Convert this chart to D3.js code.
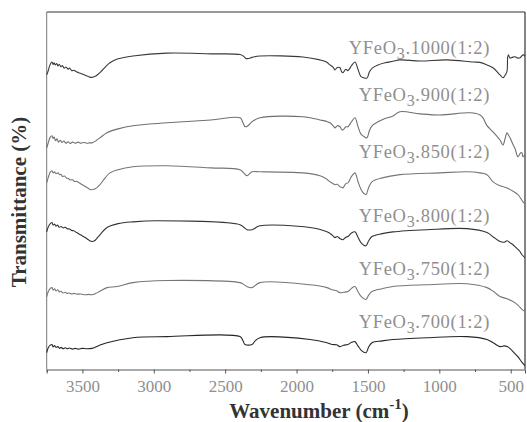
<!DOCTYPE html>
<html>
<head>
<meta charset="utf-8">
<script src="https://cdn.jsdelivr.net/npm/d3@7"></script>
<style>
  body { margin: 0; background: #fff; }
  text { font-family: "Liberation Serif", "DejaVu Serif", serif; }
</style>
</head>
<body>
<div class="ftir-plot"></div>
<script>
// spectra: [wavenumber, transmittance]
const s1000 = [[3750,82.4],[3740,83.5],[3725,85.4],[3713,86.0],[3705,85.3],[3698,85.8],[3690,85.2],[3680,85.6],[3671,84.9],[3662,85.4],[3650,84.7],[3640,85.0],[3628,84.3],[3615,84.6],[3600,84.0],[3590,84.3],[3575,83.6],[3560,83.7],[3538,83.2],[3510,82.8],[3480,82.3],[3455,81.9],[3433,81.7],[3410,82.0],[3390,82.6],[3370,83.3],[3340,84.6],[3307,85.8],[3250,86.9],[3146,87.7],[2907,88.5],[2600,88.3],[2396,88.1],[2370,87.6],[2355,87.0],[2335,87.0],[2312,87.3],[2256,87.7],[1955,87.4],[1836,86.6],[1790,86.0],[1766,85.2],[1745,84.6],[1731,83.8],[1715,84.5],[1696,84.4],[1685,83.3],[1675,83.0],[1655,84.0],[1640,83.6],[1615,85.0],[1591,86.0],[1570,84.0],[1550,82.0],[1530,81.6],[1507,81.5],[1490,83.2],[1470,84.3],[1430,85.2],[1380,85.8],[1325,86.2],[1276,86.6],[1135,86.3],[946,86.6],[764,86.0],[715,85.9],[666,85.2],[624,84.4],[575,82.4],[554,81.6],[535,82.6],[526,83.4],[521,87.4],[516,88.0],[505,87.1],[490,87.3],[470,87.5],[450,87.1],[435,87.2],[414,88.0],[400,87.7]];
const s900 = [[3750,62.0],[3740,63.3],[3725,65.0],[3713,65.4],[3705,64.6],[3698,65.0],[3688,64.0],[3678,64.5],[3668,63.6],[3655,64.1],[3642,63.5],[3630,63.9],[3615,63.3],[3600,63.7],[3585,63.2],[3570,63.6],[3550,63.3],[3530,63.6],[3510,63.3],[3490,63.5],[3470,63.3],[3450,63.4],[3433,63.4],[3405,64.0],[3377,64.8],[3328,66.2],[3250,67.3],[3146,68.2],[2907,69.0],[2600,69.8],[2396,70.4],[2375,69.0],[2361,67.9],[2340,68.2],[2312,69.3],[2256,70.4],[1955,70.7],[1836,69.8],[1790,69.4],[1766,69.0],[1745,68.2],[1731,67.6],[1715,68.2],[1696,67.9],[1685,67.2],[1675,67.0],[1655,67.9],[1640,67.9],[1615,69.3],[1591,70.4],[1570,68.0],[1550,65.9],[1530,65.2],[1507,64.8],[1490,66.8],[1470,68.2],[1430,69.3],[1380,70.2],[1325,70.9],[1276,72.1],[1135,71.5],[995,71.2],[785,71.8],[715,71.2],[694,70.4],[666,68.2],[624,66.5],[575,64.2],[554,62.8],[540,64.5],[526,66.2],[515,65.5],[505,64.8],[485,63.0],[470,61.8],[455,59.8],[449,59.5],[430,60.6],[421,60.6],[414,59.5],[400,60.1]];
const s850 = [[3750,52.2],[3740,53.6],[3725,55.2],[3713,55.6],[3705,55.0],[3695,55.3],[3685,54.8],[3671,55.0],[3660,54.5],[3650,54.6],[3640,54.0],[3625,54.1],[3610,53.5],[3600,53.5],[3585,53.0],[3570,53.1],[3555,52.6],[3538,52.6],[3510,51.9],[3480,51.2],[3460,50.7],[3440,50.3],[3420,50.4],[3400,50.8],[3377,51.7],[3340,53.6],[3307,55.0],[3250,55.9],[3146,56.7],[2907,57.0],[2600,56.4],[2396,55.9],[2370,55.0],[2347,54.2],[2312,55.3],[2256,55.3],[1955,55.0],[1836,54.2],[1790,53.3],[1766,52.5],[1745,52.0],[1731,51.7],[1715,51.8],[1696,51.1],[1685,51.0],[1675,50.8],[1655,52.0],[1640,52.2],[1615,54.0],[1591,55.0],[1570,52.6],[1550,50.5],[1530,49.3],[1514,48.9],[1495,50.9],[1472,52.5],[1400,53.6],[1276,54.5],[995,55.0],[806,55.3],[715,55.0],[666,54.5],[624,52.5],[580,51.5],[526,50.8],[490,50.0],[449,48.9],[414,46.9],[400,46.4]];
const s800 = [[3750,38.5],[3740,39.8],[3725,40.8],[3713,41.1],[3705,40.4],[3695,40.7],[3685,40.1],[3675,40.4],[3662,39.8],[3650,40.0],[3635,39.6],[3620,39.8],[3608,39.4],[3590,39.3],[3575,38.9],[3560,38.8],[3540,38.3],[3510,37.6],[3480,36.9],[3455,36.2],[3433,35.8],[3415,36.0],[3400,36.6],[3370,38.0],[3328,39.7],[3250,40.8],[3146,41.3],[2977,41.6],[2396,40.5],[2370,39.8],[2347,39.1],[2312,39.1],[2256,40.2],[1906,39.7],[1787,38.5],[1750,37.6],[1731,36.9],[1715,37.2],[1696,36.6],[1685,36.4],[1675,36.3],[1655,37.0],[1640,37.2],[1615,38.2],[1591,38.5],[1570,37.0],[1545,35.3],[1514,34.6],[1495,36.0],[1472,37.2],[1400,38.0],[1325,38.5],[1087,39.1],[806,39.4],[666,38.3],[620,37.0],[575,35.8],[545,35.6],[526,36.0],[500,35.3],[484,34.9],[460,34.0],[435,33.0],[421,32.1],[400,31.3]];
const s750 = [[3750,20.4],[3740,21.7],[3725,22.7],[3713,22.9],[3705,22.2],[3695,22.6],[3685,22.0],[3672,22.3],[3660,21.7],[3650,21.9],[3635,21.4],[3620,21.6],[3608,21.3],[3590,21.4],[3575,21.1],[3560,21.3],[3540,21.1],[3510,21.1],[3480,20.9],[3455,21.0],[3433,20.9],[3405,21.3],[3380,21.8],[3328,22.9],[3258,23.2],[3146,24.3],[2907,24.9],[2396,24.3],[2370,23.8],[2347,23.2],[2312,22.9],[2256,24.3],[1906,23.7],[1787,22.9],[1750,22.3],[1720,22.0],[1696,21.5],[1670,21.6],[1640,21.8],[1615,22.7],[1591,23.2],[1570,21.8],[1545,20.3],[1514,19.6],[1495,20.8],[1472,21.8],[1400,22.6],[1325,23.2],[1087,23.7],[806,24.0],[666,22.9],[620,21.8],[575,20.4],[526,19.8],[484,19.0],[450,18.0],[421,16.8],[400,16.2]];
const s700 = [[3750,4.7],[3740,6.0],[3725,6.8],[3713,7.0],[3705,6.3],[3695,6.7],[3685,6.2],[3672,6.4],[3660,5.9],[3650,6.2],[3635,5.8],[3620,6.1],[3608,5.8],[3590,6.0],[3570,5.7],[3550,5.9],[3530,5.7],[3500,5.9],[3470,5.8],[3433,5.9],[3390,6.6],[3328,7.5],[3146,8.9],[2907,9.2],[2396,9.2],[2375,8.0],[2361,7.0],[2312,7.0],[2290,8.0],[2256,8.9],[1906,8.4],[1787,7.5],[1750,7.0],[1720,6.9],[1696,6.4],[1670,6.8],[1640,7.0],[1615,7.6],[1591,7.8],[1570,6.6],[1545,5.3],[1514,4.7],[1495,6.3],[1472,7.5],[1400,8.0],[1325,8.4],[1087,8.9],[806,9.2],[666,8.4],[620,7.4],[575,6.4],[545,6.6],[526,6.4],[500,5.7],[484,5.0],[450,3.6],[421,2.0],[400,1.1]];

const series = [s1000, s900, s850, s800, s750, s700];
const temps = ["1000", "900", "850", "800", "750", "700"];
const labelT = [88.3, 75.0, 59.2, 41.3, 26.3, 11.5];
const lineColors = ["#3a3a3a", "#707070", "#767676", "#333333", "#767676", "#262626"];
const majorTicks = [3500, 3000, 2500, 2000, 1500, 1000, 500];
const minorTicks = [3750, 3250, 2750, 2250, 1750, 1250, 750];

const width = 527;
const height = 422;
const plotLeft = 46.7, plotRight = 525, plotTop = 12, plotBottom = 369.5;

const svg = d3.select(".ftir-plot")
    .append("svg")
    .attr("width", width)
    .attr("height", height);

const x = d3.scaleLinear().domain([3750, 400]).range([plotLeft, plotRight]);
const y = d3.scaleLinear().domain([0, 100]).range([plotBottom, plotTop]);

// frame
svg.append("line").attr("x1", plotLeft).attr("x2", plotRight).attr("y1", plotTop).attr("y2", plotTop)
    .attr("stroke", "#333").attr("stroke-width", 1.2);
svg.append("line").attr("x1", plotLeft).attr("x2", plotLeft).attr("y1", plotTop).attr("y2", plotBottom)
    .attr("stroke", "#777").attr("stroke-width", 1);
svg.append("line").attr("x1", plotRight).attr("x2", plotRight).attr("y1", plotTop).attr("y2", plotBottom)
    .attr("stroke", "#333").attr("stroke-width", 1.2);

// x axis
const xAxis = svg.append("g")
    .attr("transform", "translate(0," + plotBottom + ")")
    .call(d3.axisBottom(x).tickValues(majorTicks).tickSize(4).tickPadding(6).tickFormat(d3.format("d")));
xAxis.select(".domain").attr("stroke", "#555");
xAxis.selectAll(".tick line").attr("stroke", "#555");
xAxis.selectAll("text")
    .attr("fill", "#8f8f8f")
    .attr("font-size", "17px")
    .attr("font-family", "Liberation Serif, serif");

svg.append("g")
    .attr("transform", "translate(0," + plotBottom + ")")
    .call(d3.axisBottom(x).tickValues(minorTicks).tickSize(2.5).tickFormat(""))
    .call(g => g.select(".domain").remove())
    .selectAll(".tick line").attr("stroke", "#555");

// spectra
const line = d3.line()
    .x(d => x(d[0]))
    .y(d => y(d[1]))
    .curve(d3.curveCatmullRom.alpha(0.5));

svg.selectAll(".trace")
    .data(series)
    .enter()
    .append("path")
    .attr("class", "trace")
    .attr("d", line)
    .attr("fill", "none")
    .attr("stroke", (d, i) => lineColors[i])
    .attr("stroke-width", 1.1);

// labels
const labels = svg.selectAll(".data-label")
    .data(temps)
    .enter()
    .append("text")
    .attr("class", "data-label")
    .attr("text-anchor", "end")
    .attr("x", 490)
    .attr("y", (d, i) => y(labelT[i]))
    .attr("fill", "#8f8f8f")
    .attr("font-size", "18.5px")
    .attr("letter-spacing", "0.7px");
labels.append("tspan").text("YFeO");
labels.append("tspan").attr("dy", 5).attr("font-size", "16px").text("3");
labels.append("tspan").attr("dy", -5).text(d => "." + d + "(1:2)");

// axis titles
const xt = svg.append("text")
    .attr("x", 319)
    .attr("y", 418)
    .attr("text-anchor", "middle")
    .attr("font-weight", "bold")
    .attr("font-size", "21px")
    .attr("fill", "#333");
xt.append("tspan").text("Wavenumber (cm");
xt.append("tspan").attr("dy", -9).attr("font-size", "15px").text("-1");
xt.append("tspan").attr("dy", 9).text(")");

svg.append("text")
    .attr("transform", "translate(26,202) rotate(-90)")
    .attr("text-anchor", "middle")
    .attr("font-weight", "bold")
    .attr("font-size", "21px")
    .attr("fill", "#333")
    .text("Transmittance (%)");
</script>
</body>
</html>
